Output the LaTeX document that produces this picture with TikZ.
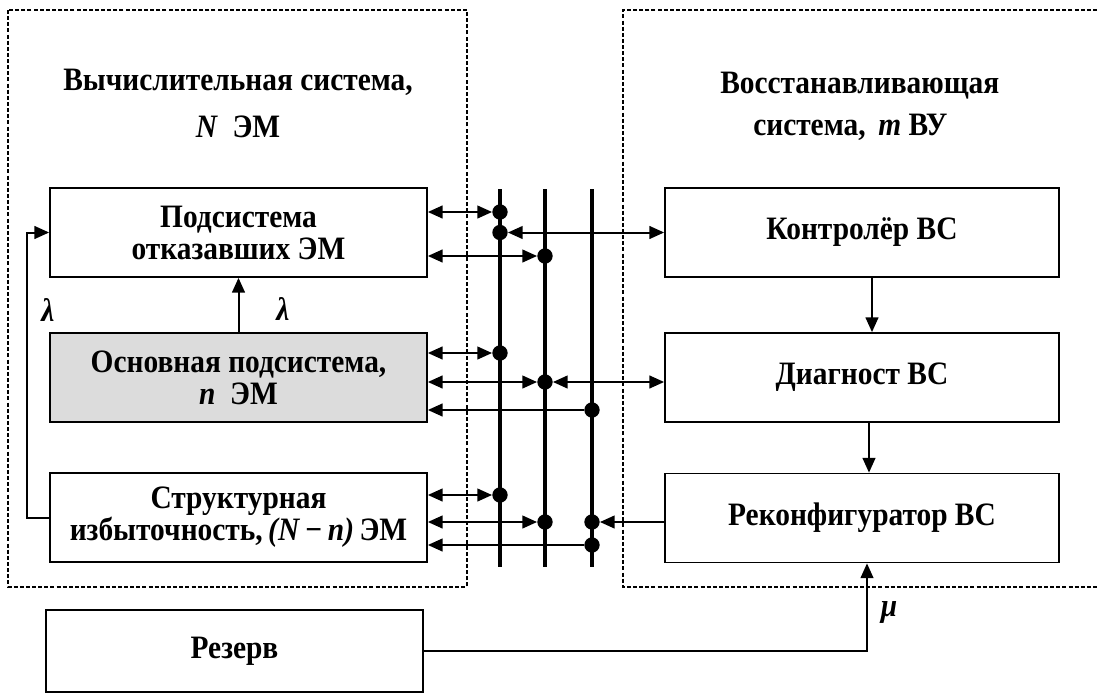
\documentclass[tikz,border=0pt]{standalone}
\usepackage{fontspec}
\setmainfont{Liberation Serif}[FakeStretch=0.9]
\usetikzlibrary{arrows.meta,calc}
\definecolor{boxgray}{RGB}{220,220,220}
\begin{document}
\begin{tikzpicture}[x=0.75pt,y=-0.75pt,
  every node/.style={font=\bfseries\fontsize{24.5}{24}\selectfont},
  frame/.style={line width=0.8pt,dash pattern=on 3pt off 1.6pt},
  blk/.style={draw,line width=1.3pt,align=center,inner sep=0pt},
  bus/.style={line width=3pt},
  arr/.style={line width=1.5pt,-{Triangle[length=11pt,width=9.5pt]}},
  darr/.style={line width=1.5pt,{Triangle[length=11pt,width=9.5pt]}-{Triangle[length=11pt,width=9.5pt]}},
  dot/.style={circle,fill,inner sep=0pt,minimum size=11.5pt},
  lbl/.style={inner sep=0pt}]
\useasboundingbox (0,0) rectangle (1097,697);
% frames
\draw[frame] (8,10) rectangle (467,587);
\draw[frame] (1097,10) -- (623,10) -- (623,587) -- (1097,587);
% titles
\node[lbl,anchor=base] (t1) at (238,90) {Вычислительная система,};
\node[lbl,anchor=base] (t2) at (238,137) {\textit{N}\ \ ЭМ};
\node[lbl,anchor=base west] (t3) at (720,93) {Восстанавливающая};
\node[lbl,anchor=base west] (t4) at (753,135) {система,\ \,\textit{m}\ ВУ};
% buses
\coordinate (bu1t) at (500,189); \coordinate (bu1b) at (500,567);
\coordinate (bu2t) at (545,189); \coordinate (bu2b) at (545,567);
\coordinate (bu3t) at (592,189); \coordinate (bu3b) at (592,567);
\draw[bus] (bu1t) -- (bu1b);
\draw[bus] (bu2t) -- (bu2b);
\draw[bus] (bu3t) -- (bu3b);
% left boxes
\node[blk,minimum width=377*0.75pt,minimum height=89*0.75pt] (b1) at (238.5,232.5) {Подсистема\\отказавших ЭМ};
\node[blk,fill=boxgray,minimum width=377*0.75pt,minimum height=89*0.75pt] (b2) at (238.5,377.5) {Основная подсистема,\\\textit{n}\ \ ЭМ};
\node[blk,minimum width=377*0.75pt,minimum height=89*0.75pt] (b3) at (238.5,517.5) {Структурная\\избыточность,\,\textit{(N\,−\,n)}\,ЭМ};
\node[blk,minimum width=377*0.75pt,minimum height=82*0.75pt] (b4) at (234.5,651) {Резерв};
% right boxes
\node[blk,minimum width=394*0.75pt,minimum height=89*0.75pt] (kc) at (862,232.5) {Контролёр ВС};
\node[blk,minimum width=394*0.75pt,minimum height=89*0.75pt] (dg) at (862,377.5) {Диагност ВС};
\node[blk,minimum width=394*0.75pt,minimum height=89*0.75pt] (rc) at (862,518) {Реконфигуратор ВС};
% dots
\node[dot] (d1a) at (500,212) {};
\node[dot] (d1b) at (500,232.5) {};
\node[dot] (d2a) at (545,256) {};
\node[dot] (d1c) at (500,353) {};
\node[dot] (d2b) at (545,382) {};
\node[dot] (d3a) at (592,410) {};
\node[dot] (d1d) at (500,495) {};
\node[dot] (d2c) at (545,522) {};
\node[dot] (d3b) at (592,522) {};
\node[dot] (d3c) at (592,545) {};
% bus connections
\draw[darr] (b1.east |- d1a) -- (d1a);
\draw[darr] (d1b) -- (kc.west);
\draw[darr] (b1.east |- d2a) -- (d2a);
\draw[darr] (b2.east |- d1c) -- (d1c);
\draw[darr] (b2.east |- d2b) -- (d2b);
\draw[darr] (d2b) -- (dg.west |- d2b);
\draw[arr] (d3a) -- (b2.east |- d3a);
\draw[darr] (b3.east |- d1d) -- (d1d);
\draw[darr] (b3.east |- d2c) -- (d2c);
\draw[arr] (rc.west |- d3b) -- (d3b);
\draw[arr] (d3c) -- (b3.east |- d3c);
% right chain
\draw[arr] (kc.south -| 872,0) -- (dg.north -| 872,0);
\draw[arr] (dg.south -| 869,0) -- (rc.north -| 869,0);
% lambda arrows
\draw[arr] (b2.north) -- (b1.south);
\draw[arr] (b3.west) -- ++(-22,0) |- (b1.west);
\node[lbl] (l1) at (283,309) {\textit{λ}};
\node[lbl] (l2) at (48,310) {\textit{λ}};
% reserve
\draw[arr] (b4.east) -| (rc.south -| 867,0);
\node[lbl] (mu) at (889,612) {\textit{μ}};
\end{tikzpicture}
\end{document}
